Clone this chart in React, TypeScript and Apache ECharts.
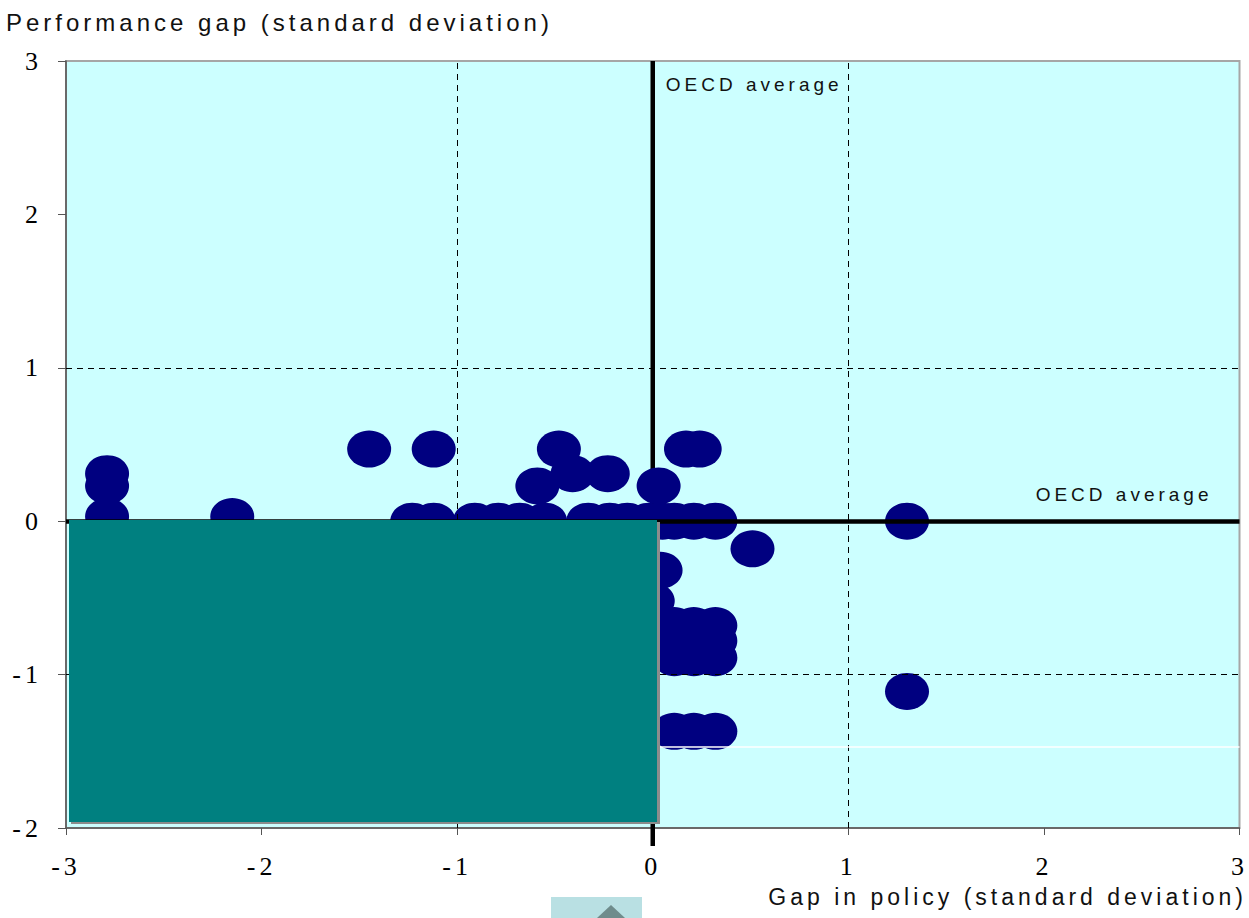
import React, { useEffect, useRef } from "react";
import * as echarts from "echarts";

// ---- data ----
const pointsX = [
  -2.79, -2.79, -2.79, -2.15,
  -1.45, -1.12,
  -1.23, -1.12, -0.91, -0.79, -0.68, -0.55, -0.33, -0.22, -0.13, -0.02, 0.05,
  -0.48, -0.59, -0.41, -0.23, 0.03,
  0.17, 0.24,
  0.11, 0.21, 0.32,
  0.51,
  0.04, 0.0,
  0.11, 0.21, 0.32, 0.11, 0.21, 0.32, 0.11, 0.21, 0.32,
  0.11, 0.21, 0.32,
  1.3, 1.3,
];
const pointsY = [
  0.31, 0.23, 0.03, 0.03,
  0.47, 0.47,
  0, 0, 0, 0, 0, 0, 0, 0, 0, 0, 0,
  0.47, 0.23, 0.31, 0.31, 0.23,
  0.47, 0.47,
  0, 0, 0,
  -0.18,
  -0.32, -0.52,
  -0.68, -0.68, -0.68, -0.78, -0.78, -0.78, -0.89, -0.89, -0.89,
  -1.37, -1.37, -1.37,
  0, -1.11,
];
const xMin = -3, xMax = 3, yMin = -2, yMax = 3, tickStep = 1;
const dashedX = [-1, 1];
const dashedY = [-1, 1];
const averageX = 0;
const averageY = 0;
const whiteLineY = -1.47;
const yTitle = "Performance gap (standard deviation)";
const xTitle = "Gap in policy (standard deviation)";
const avgLabel = "OECD average";

export default function App() {
  const ref = useRef<HTMLDivElement>(null);
  useEffect(() => {
    document.body.style.margin = "0";
    const chart = echarts.init(ref.current!, null, { renderer: "svg" });
    const points = pointsX.map((x, i) => [x, pointsY[i]]);
    const serif = "Liberation Serif";
    const sans = "Liberation Sans";
    chart.setOption({
      animation: false,
      grid: {
        left: 66, right: 9, top: 61, bottom: 90,
        show: true, backgroundColor: "#CCFFFF", borderColor: "#A6A6A6", borderWidth: 2,
      },
      xAxis: {
        type: "value", min: xMin, max: xMax, interval: tickStep,
        axisLine: { onZero: false, lineStyle: { color: "#555", width: 1.5 } },
        axisTick: { show: true, inside: false, length: 7, lineStyle: { color: "#555" } },
        axisLabel: { fontFamily: serif, fontSize: 26, color: "#000", margin: 25 },
        splitLine: { show: false },
      },
      yAxis: {
        type: "value", min: yMin, max: yMax, interval: tickStep,
        axisLine: { onZero: false, lineStyle: { color: "#555", width: 1.5 } },
        axisTick: { show: true, inside: false, length: 8, lineStyle: { color: "#555" } },
        axisLabel: { fontFamily: serif, fontSize: 26, color: "#000", margin: 24 },
        splitLine: { show: false },
      },
      series: [
        {
          type: "scatter", data: [], z: 1, silent: true,
          markLine: {
            silent: true, symbol: "none", animation: false, label: { show: false },
            data: [
              ...dashedX.map((v) => ({ xAxis: v, lineStyle: { color: "#000", width: 1, type: [6, 5] } })),
              ...dashedY.map((v) => ({ yAxis: v, lineStyle: { color: "#000", width: 1, type: [6, 5] } })),
              [
                { coord: [averageX, whiteLineY], lineStyle: { color: "#fff", width: 1.5, type: "solid" } },
                { coord: [xMax, whiteLineY] },
              ],
              { yAxis: averageY, lineStyle: { color: "#000", width: 4.5, type: "solid" } },
            ],
          },
        },
        {
          type: "scatter", z: 3, data: points, symbol: "circle", symbolSize: [44, 37],
          itemStyle: { color: "#000080", opacity: 1 },
        },
      ],
    });
    const top = chart.convertToPixel({ gridIndex: 0 }, [averageX, yMax]) as number[];
    const bot = chart.convertToPixel({ gridIndex: 0 }, [averageX, yMin]) as number[];
    const right = chart.convertToPixel({ gridIndex: 0 }, [xMax, averageY]) as number[];
    chart.setOption({
      graphic: [
        {
          type: "line", z: 1, silent: true,
          shape: { x1: top[0], y1: top[1], x2: bot[0], y2: bot[1] + 18 },
          style: { stroke: "#000", lineWidth: 4.5 },
        },
        {
          type: "text", z: 5,
          style: { text: yTitle, x: 6, y: 22, fill: "#111", fontFamily: sans, fontSize: 24, align: "left", verticalAlign: "middle", textAlign: "left", textVerticalAlign: "middle" },
        },
        {
          type: "text", z: 5,
          style: { text: xTitle, x: 1247, y: 897, fill: "#111", fontFamily: sans, fontSize: 23, align: "right", verticalAlign: "middle", textAlign: "right", textVerticalAlign: "middle" },
        },
        {
          type: "text", z: 5,
          style: { text: avgLabel, x: top[0] + 13, y: 84, fill: "#111", fontFamily: sans, fontSize: 19, align: "left", verticalAlign: "middle", textAlign: "left", textVerticalAlign: "middle" },
        },
        {
          type: "text", z: 5,
          style: { text: avgLabel, x: right[0] - 27, y: right[1] - 27, fill: "#111", fontFamily: sans, fontSize: 19, align: "right", verticalAlign: "middle", textAlign: "right", textVerticalAlign: "middle" },
        },
        {
          type: "rect", z: 9, silent: true,
          shape: { x: 71, y: 522, width: 589, height: 302 },
          style: { fill: "#8C8C8C" },
        },
        {
          type: "rect", z: 10, silent: true,
          shape: { x: 69, y: 520, width: 588, height: 302 },
          style: { fill: "#008080" },
        },
        {
          type: "rect", z: 10, silent: true,
          shape: { x: 551, y: 897, width: 91, height: 21 },
          style: { fill: "#B9E0E3" },
        },
        {
          type: "polygon", z: 11, silent: true,
          shape: { points: [[597, 918], [611, 905], [625, 918]] },
          style: { fill: "#6F8C8C" },
        },
      ],
    });
    return () => chart.dispose();
  }, []);
  return <div ref={ref} style={{ width: 1249, height: 918, letterSpacing: "4px" }} />;
}
